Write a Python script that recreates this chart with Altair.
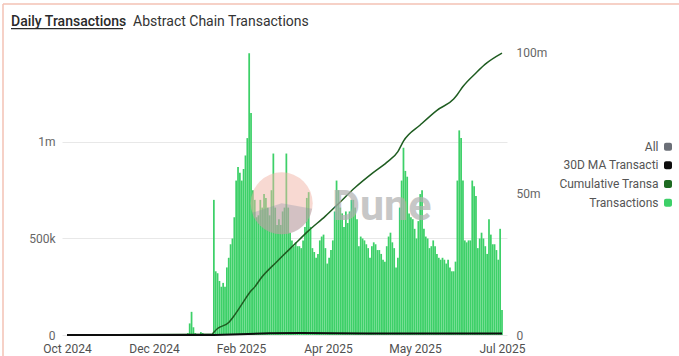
import json
from datetime import datetime, timedelta

import altair as alt
import pandas as pd

# ---------------- data (values in millions) ----------------
tx_start = "2025-01-10"
tx_values = [
    # Jan 10 - Jan 26 (pre-launch)
    0, 0, 0, 0.01, 0.06, 0.12, 0.04, 0.01, 0.005, 0.005, 0.015, 0.01, 0.005, 0.005, 0.005, 0.005, 0.005,
    # Jan 27 onwards
    0.70, 0.33, 0.32, 0.28, 0.25, 0.27, 0.25, 0.35, 0.40, 0.47, 0.50, 0.61, 0.80, 0.87, 0.84, 0.80, 0.86, 0.93, 1.02, 1.46,
    1.15, 0.75, 0.70, 0.61, 0.62, 0.70, 0.66, 0.73, 0.71, 0.66, 0.62, 0.75, 0.94, 0.66, 0.57, 0.60, 0.57, 0.64, 0.66, 0.94,
    0.66, 0.53, 0.49, 0.46, 0.48, 0.46, 0.46, 0.45, 0.49, 0.56, 0.71, 0.74, 0.56, 0.45, 0.43, 0.40, 0.42, 0.49, 0.51, 0.52,
    0.45, 0.37, 0.40, 0.44, 0.49, 0.64, 0.80, 0.75, 0.66, 0.63, 0.56, 0.64, 0.58, 0.64, 0.70, 0.70, 0.66, 0.60, 0.46, 0.51,
    0.50, 0.49, 0.47, 0.45, 0.40, 0.46, 0.48, 0.47, 0.44, 0.44, 0.42, 0.39, 0.38, 0.46, 0.51, 0.53, 0.48, 0.45, 0.35, 0.40,
    0.66, 0.80, 0.97, 0.85, 0.82, 0.63, 0.61, 0.60, 0.55, 0.50, 0.59, 0.73, 0.75, 0.55, 0.51, 0.50, 0.45, 0.46, 0.49, 0.46,
    0.42, 0.40, 0.39, 0.40, 0.39, 0.37, 0.39, 0.35, 0.33, 0.33, 0.38, 0.80, 1.06, 1.02, 0.80, 0.49, 0.48, 0.49, 0.49, 0.80,
    0.77, 0.72, 0.45, 0.50, 0.53, 0.50, 0.46, 0.42, 0.60, 0.52, 0.47, 0.47, 0.44, 0.39, 0.55, 0.13,
]

cum_dates = ["2024-11-09", "2025-01-26", "2025-01-27", "2025-01-29", "2025-02-04", "2025-02-06",
             "2025-02-11", "2025-02-16", "2025-02-18", "2025-02-21", "2025-03-02", "2025-03-11",
             "2025-03-19", "2025-03-28", "2025-04-04", "2025-04-13", "2025-04-22", "2025-04-30",
             "2025-05-06", "2025-05-09", "2025-05-18", "2025-05-27", "2025-06-05", "2025-06-07",
             "2025-06-10", "2025-06-17", "2025-06-22", "2025-07-01"]
cum_values = [0, 0.3, 1.0, 2.3, 4.4, 6.0, 10.8, 15.6, 17.0, 19.8, 26.0, 31.8, 36.9, 42.0, 46.4, 52.1,
              57.0, 61.0, 64.8, 68.5, 74.2, 79.4, 83.4, 85.0, 87.8, 92.6, 95.7, 99.6]

ma_dates = ["2024-11-09", "2025-01-27", "2025-02-10", "2025-02-26", "2025-03-15", "2025-04-01",
            "2025-04-20", "2025-05-10", "2025-05-31", "2025-06-20", "2025-07-01"]
ma_values = [0, 0.02, 0.3, 0.62, 0.68, 0.6, 0.52, 0.55, 0.5, 0.55, 0.52]

x_labels = ["Oct 2024", "Dec 2024", "Feb 2025", "Apr 2025", "May 2025", "Jul 2025"]
left_ticks = [0, 0.5, 1]
right_ticks = [0, 50, 100]
legend_names = ["All", "30D MA Transactions", "Cumulative Transactions", "Transactions"]
legend_colors = ["#6b6f77", "#0d0d0d", "#1e6b22", "#3dd068"]
title_main = "Daily Transactions"
title_sub = "Abstract Chain Transactions"
watermark = "Dune"

FONT = "Roboto"
W, H = 445, 283

tx_df = pd.DataFrame({"date": pd.date_range(tx_start, periods=len(tx_values), freq="D"),
                      "tx": tx_values})
cum_df = pd.DataFrame({"date": pd.to_datetime(cum_dates), "v": cum_values})
ma_df = pd.DataFrame({"date": pd.to_datetime(ma_dates), "v": ma_values})

x_start = datetime(2024, 11, 9)
x_end = datetime(2025, 7, 1)
span = (x_end - x_start) / (len(x_labels) - 1)
tick_vals = []
for k in range(len(x_labels)):
    t = x_start + span * k
    tick_vals.append(alt.DateTime(year=t.year, month=t.month, date=t.day,
                                  hours=t.hour, minutes=t.minute, seconds=t.second))

x_scale = alt.Scale(domain=[alt.DateTime(year=2024, month=11, date=9),
                            alt.DateTime(year=2025, month=7, date=1)])
x_axis = alt.Axis(values=tick_vals,
                  labelExpr=f"{json.dumps(x_labels)}[round(datum.index*{len(x_labels)-1})]",
                  labelFlush=False, labelOverlap=False, ticks=False, domain=False, grid=False,
                  labelPadding=8, labelFontSize=12, labelColor="#505050", labelFont=FONT, title=None)

bars = alt.Chart(tx_df).mark_bar(size=1.75, color="#3dd068").encode(
    x=alt.X("date:T", scale=x_scale, axis=x_axis),
    y=alt.Y("tx:Q", scale=alt.Scale(domain=[0, 1.466], nice=False),
            axis=alt.Axis(values=left_ticks, orient="left",
                          labelExpr="datum.value == 0 ? '0' : (datum.value < 1 ? format(datum.value*1000, 'd') + 'k' : datum.value + 'm')",
                          grid=True, gridColor="#e8e8e8", ticks=False, domain=False,
                          labelPadding=7, labelFontSize=12, labelColor="#666666",
                          labelFont=FONT, title=None)),
)

right_axis = alt.Axis(values=right_ticks, orient="right",
                      labelExpr="datum.value == 0 ? '0' : datum.value + 'm'",
                      grid=False, ticks=False, domain=False, labelPadding=9,
                      labelFontSize=12, labelColor="#666666", labelFont=FONT, title=None)
right_scale = alt.Scale(domain=[0, 100], nice=False)

cum = alt.Chart(cum_df).mark_line(color="#1e5c20", strokeWidth=1.5, interpolate="monotone").encode(
    x=alt.X("date:T", scale=x_scale, axis=x_axis),
    y=alt.Y("v:Q", scale=right_scale, axis=right_axis),
)
ma = alt.Chart(ma_df).mark_line(color="#0d0d0d", strokeWidth=2).encode(
    x=alt.X("date:T", scale=x_scale, axis=x_axis),
    y=alt.Y("v:Q", scale=right_scale, axis=right_axis),
)

one = pd.DataFrame({"t": [0]})
decos = []

# watermark
decos.append(alt.Chart(one).mark_arc(radius=31, theta=0, theta2=6.2832, color="#f2b3a6", opacity=0.5)
             .encode(x=alt.value(219.7), y=alt.value(151.3)))
decos.append(alt.Chart(one).mark_arc(radius=31, theta=1.75, theta2=4.4, color="#7f8aa3", opacity=0.3)
             .encode(x=alt.value(219.7), y=alt.value(151.3)))
decos.append(alt.Chart(pd.DataFrame({"t": [watermark]})).mark_text(
    font=FONT, fontSize=43, fontWeight="bold", color="#b0b0b0", opacity=0.7,
    align="left", baseline="alphabetic").encode(text="t:N", x=alt.value(270), y=alt.value(168)))

# titles
decos.append(alt.Chart(pd.DataFrame({"t": [title_main]})).mark_text(
    font=FONT, fontSize=14, fontWeight=500, color="#2a2a2a", align="left", baseline="alphabetic")
    .encode(text="t:N", x=alt.value(-51), y=alt.value(-26)))
decos.append(alt.Chart(one).mark_rule(color="#2a2a2a", strokeWidth=1.2)
             .encode(x=alt.value(-51), x2=alt.value(61), y=alt.value(-23.3)))
decos.append(alt.Chart(pd.DataFrame({"t": [title_sub]})).mark_text(
    font=FONT, fontSize=14, color="#333333", align="left", baseline="alphabetic")
    .encode(text="t:N", x=alt.value(71), y=alt.value(-26)))

# card border
decos.append(alt.Chart(one).mark_rule(color="#f3c2b4", strokeWidth=1.5)
             .encode(x=alt.value(-59), x2=alt.value(620), y=alt.value(-48)))
decos.append(alt.Chart(one).mark_rule(color="#f3c2b4", strokeWidth=1.5)
             .encode(x=alt.value(-59), y=alt.value(-48), y2=alt.value(310)))

# legend
leg_y = [94.7, 113.3, 132.0, 150.7]
for name, col, yy in zip(legend_names, legend_colors, leg_y):
    decos.append(alt.Chart(pd.DataFrame({"t": [name]})).mark_text(
        font=FONT, fontSize=12, color="#555555", align="right", baseline="middle",
        limit=102, ellipsis="\u200b").encode(text="t:N", x=alt.value(596.5), y=alt.value(yy)))
    decos.append(alt.Chart(one).mark_rect(color=col, cornerRadius=2).encode(
        x=alt.value(602), x2=alt.value(610), y=alt.value(yy - 4), y2=alt.value(yy + 4)))

lines = alt.layer(cum, ma, *decos)
chart = alt.layer(bars, lines).resolve_scale(y="independent").properties(
    width=W, height=H,
    autosize=alt.AutoSizeParams(type="none"),
    padding={"left": 62, "top": 52, "right": 172, "bottom": 21},
    background="white",
).configure_view(strokeWidth=0)

chart.save("out.html", embed_options={"renderer": "svg", "actions": False})
